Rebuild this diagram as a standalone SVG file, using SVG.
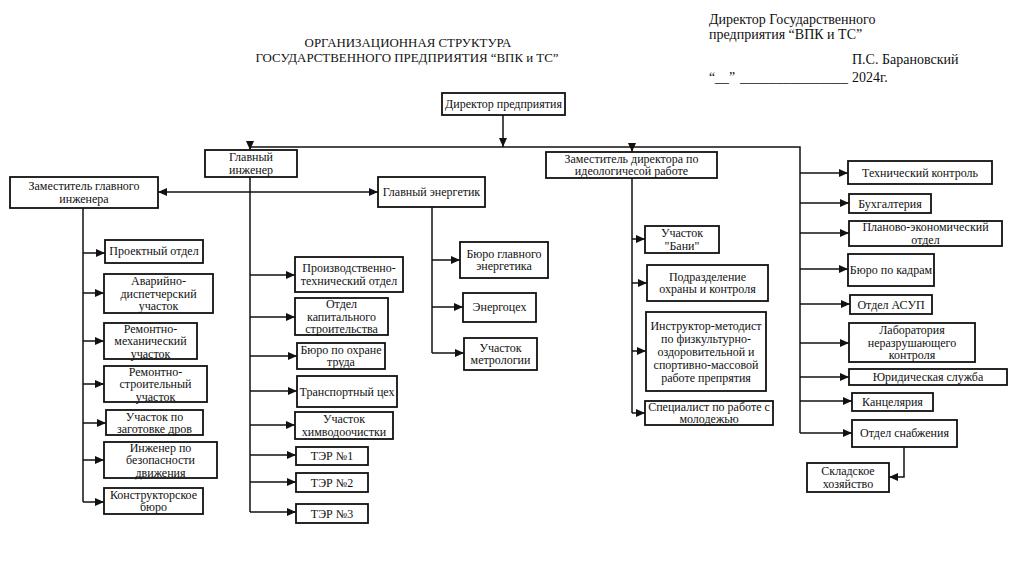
<svg xmlns="http://www.w3.org/2000/svg" width="1024" height="575" viewBox="0 0 1024 575" font-family="'Liberation Serif', 'DejaVu Serif', serif">
<style>
text{font-family:'Liberation Serif','DejaVu Serif',serif;fill:#111}
.b{fill:#fff;stroke:#111;stroke-width:1.8}
.t{font-size:12px;text-anchor:middle}
.h{font-size:12.9px;text-anchor:middle}
.s{font-size:14px}
.c{fill:none;stroke:#111;stroke-width:1.5}
.a{marker-end:url(#ar)}
</style>
<defs>
<marker id="ar" markerUnits="userSpaceOnUse" markerWidth="9" markerHeight="9" viewBox="0 0 9 9" refX="9" refY="4.5" orient="auto"><path d="M0,0.5 L9,4.5 L0,8.5 Z" fill="#111"/></marker>
<marker id="as" markerUnits="userSpaceOnUse" markerWidth="9" markerHeight="9" viewBox="0 0 9 9" refX="0" refY="4.5" orient="auto"><path d="M9,0.5 L0,4.5 L9,8.5 Z" fill="#111"/></marker>
</defs>
<rect width="1024" height="575" fill="#fff"/>
<g id="header">
<text class="h" x="408" y="47">ОРГАНИЗАЦИОННАЯ СТРУКТУРА</text>
<text class="h" x="407" y="62">ГОСУДАРСТВЕННОГО ПРЕДПРИЯТИЯ “ВПК и ТС”</text>
<text class="s" x="709" y="24">Директор Государственного</text>
<text class="s" x="709" y="39">предприятия “ВПК и ТС”</text>
<text class="s" x="852" y="64">П.С. Барановский</text>
<text class="s" x="709" y="82" textLength="26" lengthAdjust="spacingAndGlyphs">“__”</text>
<text class="s" x="740" y="82" textLength="108" lengthAdjust="spacingAndGlyphs">_______________</text>
<text class="s" x="852" y="82">2024г.</text>
</g>
<g id="connectors">
<path class="c a" d="M503,115 L503,147"/>
<path class="c" d="M250,147 L800,147 L800,433"/>
<path class="c a" d="M250,147 L250,150"/>
<path class="c a" d="M632,147 L632,152"/>
<path class="c" d="M158,192 L378,192" marker-start="url(#as)" marker-end="url(#ar)"/>
<path class="c" d="M250,177 L250,512"/>
<path class="c a" d="M250,275 L295,275"/>
<path class="c a" d="M250,317 L295,317"/>
<path class="c a" d="M250,356 L297,356"/>
<path class="c a" d="M250,391 L297,391"/>
<path class="c a" d="M250,425 L295,425"/>
<path class="c a" d="M250,455 L296,455"/>
<path class="c a" d="M250,482 L296,482"/>
<path class="c a" d="M250,512 L296,512"/>
<path class="c" d="M83,208 L83,502"/>
<path class="c a" d="M83,253 L105,253"/>
<path class="c a" d="M83,293 L104,293"/>
<path class="c a" d="M83,341 L104,341"/>
<path class="c a" d="M83,384 L104,384"/>
<path class="c a" d="M83,423 L106,423"/>
<path class="c a" d="M83,460 L104,460"/>
<path class="c a" d="M83,502 L104,502"/>
<path class="c" d="M432,207 L432,353"/>
<path class="c a" d="M432,260 L460,260"/>
<path class="c a" d="M432,307 L463,307"/>
<path class="c a" d="M432,353 L464,353"/>
<path class="c" d="M632,178 L632,413"/>
<path class="c a" d="M632,239 L645,239"/>
<path class="c a" d="M632,283 L647,283"/>
<path class="c a" d="M632,351 L646,351"/>
<path class="c a" d="M632,413 L645,413"/>
<path class="c a" d="M800,173 L848,173"/>
<path class="c a" d="M800,203 L849,203"/>
<path class="c a" d="M800,233 L849,233"/>
<path class="c a" d="M800,269 L848,269"/>
<path class="c a" d="M800,304 L850,304"/>
<path class="c a" d="M800,343 L849,343"/>
<path class="c a" d="M800,377 L849,377"/>
<path class="c a" d="M800,401 L852,401"/>
<path class="c a" d="M800,433 L852,433"/>
<path class="c a" d="M904,447 L904,477 L889,477"/>
</g>
<g id="dir"><rect class="b" x="442" y="93" width="123" height="22"/><text class="t" x="503.5" y="108">Директор предприятия</text></g>
<g id="gi"><rect class="b" x="205" y="150" width="92" height="27"/><text class="t" x="251" y="161">Главный</text><text class="t" x="251" y="173.5">инженер</text></g>
<g id="zgi"><rect class="b" x="10" y="177" width="148" height="31"/><text class="t" x="84" y="190">Заместитель главного</text><text class="t" x="84" y="202.5">инженера</text></g>
<g id="ge"><rect class="b" x="378" y="177" width="107" height="30"/><text class="t" x="431.5" y="196">Главный энергетик</text></g>
<g id="zd"><rect class="b" x="546" y="152" width="171" height="26"/><text class="t" x="631.5" y="162.5">Заместитель директора по</text><text class="t" x="631.5" y="175">идеологичесой работе</text></g>
<g id="p1"><rect class="b" x="105" y="240" width="98" height="23"/><text class="t" x="154" y="255">Проектный отдел</text></g>
<g id="p2"><rect class="b" x="104" y="274" width="109" height="39"/><text class="t" x="158.5" y="285">Аварийно-</text><text class="t" x="158.5" y="297.5">диспетчерский</text><text class="t" x="158.5" y="310">участок</text></g>
<g id="p3"><rect class="b" x="104" y="323" width="93" height="36"/><text class="t" x="150.5" y="332.5">Ремонтно-</text><text class="t" x="150.5" y="345">механический</text><text class="t" x="150.5" y="357.5">участок</text></g>
<g id="p4"><rect class="b" x="104" y="366" width="103" height="36"/><text class="t" x="155.5" y="375.5">Ремонтно-</text><text class="t" x="155.5" y="388">строительный</text><text class="t" x="155.5" y="400.5">участок</text></g>
<g id="p5"><rect class="b" x="106" y="410" width="97" height="25"/><text class="t" x="154.5" y="420.5">Участок по</text><text class="t" x="154.5" y="433">заготовке дров</text></g>
<g id="p6"><rect class="b" x="104" y="442" width="113" height="36"/><text class="t" x="160.5" y="451.5">Инженер по</text><text class="t" x="160.5" y="464">безопасности</text><text class="t" x="160.5" y="476.5">движения</text></g>
<g id="p7"><rect class="b" x="104" y="488" width="99" height="26"/><text class="t" x="153.5" y="498.5">Конструкторское</text><text class="t" x="153.5" y="511">бюро</text></g>
<g id="m1"><rect class="b" x="295" y="257" width="108" height="35"/><text class="t" x="349" y="272">Производственно-</text><text class="t" x="349" y="284.5">технический отдел</text></g>
<g id="m2"><rect class="b" x="295" y="298" width="93" height="37"/><text class="t" x="341.5" y="308">Отдел</text><text class="t" x="341.5" y="320.5">капитального</text><text class="t" x="341.5" y="333">строительства</text></g>
<g id="m3"><rect class="b" x="297" y="343" width="88" height="26"/><text class="t" x="341" y="353.5">Бюро по охране</text><text class="t" x="341" y="366">труда</text></g>
<g id="m4"><rect class="b" x="297" y="376" width="100" height="31"/><text class="t" x="347" y="395.5">Транспортный цех</text></g>
<g id="m5"><rect class="b" x="295" y="412" width="98" height="27"/><text class="t" x="344" y="423">Участок</text><text class="t" x="344" y="435.5">химводоочистки</text></g>
<g id="m6"><rect class="b" x="296" y="447" width="72" height="18"/><text class="t" x="332" y="460">ТЭР №1</text></g>
<g id="m7"><rect class="b" x="296" y="473" width="72" height="19"/><text class="t" x="332" y="486.5">ТЭР №2</text></g>
<g id="m8"><rect class="b" x="296" y="504" width="72" height="19"/><text class="t" x="332" y="517.5">ТЭР №3</text></g>
<g id="e1"><rect class="b" x="460" y="242" width="88" height="36"/><text class="t" x="504" y="257.5">Бюро главного</text><text class="t" x="504" y="270">энергетика</text></g>
<g id="e2"><rect class="b" x="463" y="293" width="73" height="29"/><text class="t" x="499.5" y="311">Энергоцех</text></g>
<g id="e3"><rect class="b" x="464" y="338" width="73" height="32"/><text class="t" x="500.5" y="351.5">Участок</text><text class="t" x="500.5" y="364">метрологии</text></g>
<g id="z1"><rect class="b" x="645" y="226" width="74" height="27"/><text class="t" x="682" y="237">Участок</text><text class="t" x="682" y="249.5">"Бани"</text></g>
<g id="z2"><rect class="b" x="647" y="265" width="121" height="36"/><text class="t" x="707.5" y="280.5">Подразделение</text><text class="t" x="707.5" y="293">охраны и контроля</text></g>
<g id="z3"><rect class="b" x="646" y="312" width="120" height="79"/><text class="t" x="706" y="330">Инструктор-методист</text><text class="t" x="706" y="343">по физкультурно-</text><text class="t" x="706" y="356">оздоровительной и</text><text class="t" x="706" y="369">спортивно-массовой</text><text class="t" x="706" y="382">работе препрятия</text></g>
<g id="z4"><rect class="b" x="645" y="401" width="128" height="24"/><text class="t" x="709" y="411">Специалист по работе с</text><text class="t" x="709" y="423">молодежью</text></g>
<g id="r1"><rect class="b" x="848" y="161" width="144" height="23"/><text class="t" x="920" y="176.5">Технический контроль</text></g>
<g id="r2"><rect class="b" x="849" y="194" width="82" height="19"/><text class="t" x="890" y="207.5">Бухгалтерия</text></g>
<g id="r3"><rect class="b" x="849" y="221" width="153" height="25"/><text class="t" x="925.5" y="231">Планово-экономический</text><text class="t" x="925.5" y="244">отдел</text></g>
<g id="r4"><rect class="b" x="848" y="254" width="86" height="32"/><text class="t" x="891" y="274">Бюро по кадрам</text></g>
<g id="r5"><rect class="b" x="850" y="295" width="82" height="19"/><text class="t" x="891" y="308.5">Отдел АСУП</text></g>
<g id="r6"><rect class="b" x="849" y="323" width="126" height="39"/><text class="t" x="912" y="334">Лаборатория</text><text class="t" x="912" y="346.5">неразрушающего</text><text class="t" x="912" y="359">контроля</text></g>
<g id="r7"><rect class="b" x="849" y="369" width="158" height="16"/><text class="t" x="928" y="381">Юридическая служба</text></g>
<g id="r8"><rect class="b" x="852" y="393" width="81" height="18"/><text class="t" x="892.5" y="406">Канцелярия</text></g>
<g id="r9"><rect class="b" x="852" y="420" width="105" height="27"/><text class="t" x="904.5" y="437">Отдел снабжения</text></g>
<g id="r10"><rect class="b" x="807" y="463" width="82" height="29"/><text class="t" x="848" y="475">Складское</text><text class="t" x="848" y="487.5">хозяйство</text></g>
</svg>
